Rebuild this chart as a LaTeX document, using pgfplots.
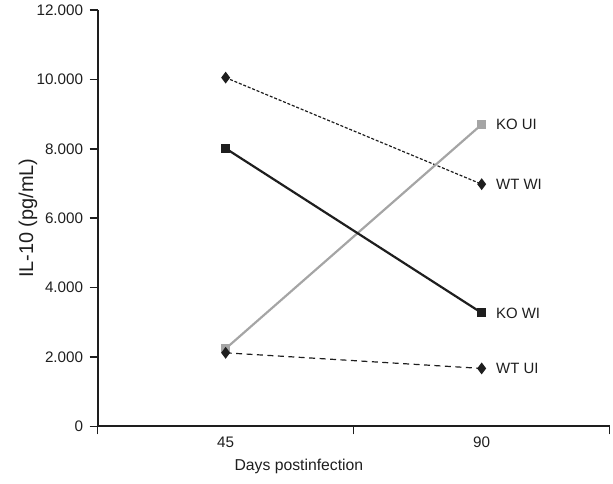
\documentclass[border=0pt]{standalone}
\usepackage{pgfplots}
\pgfplotsset{compat=1.18}
\usepackage{fontspec}
\setmainfont{Liberation Sans}
\definecolor{dk}{RGB}{30,30,30}
\definecolor{gr}{RGB}{165,165,165}
\begin{document}
\begin{tikzpicture}
\begin{axis}[
  scale only axis,
  width=514pt, height=418pt,
  xmin=0, xmax=2, ymin=0, ymax=12000,
  axis x line*=bottom, axis y line*=left,
  every outer x axis line/.append style={line width=1.8pt, color=dk, -},
  every outer y axis line/.append style={line width=1.8pt, color=dk, -},
  xtick={0,1,2}, xticklabels={},
  extra x ticks={0.5,1.5}, extra x tick labels={45,90},
  extra x tick style={major tick length=0pt, tick style={draw=none}},
  ytick={0,2000,4000,6000,8000,10000,12000},
  yticklabels={0,2.000,4.000,6.000,8.000,10.000,12.000},
  scaled ticks=false,
  tick style={line width=1.6pt, color=dk},
  major tick length=8pt,
  tick align=outside,
  xticklabel style={yshift=-7pt},
  yticklabel style={xshift=-3pt},
  ticklabel style={font=\fontsize{15.3}{17}\selectfont, color=dk},
  xlabel={Days postinfection},
  ylabel={IL-10 (pg/mL)},
  xlabel style={font=\fontsize{15.8}{18}\selectfont, color=dk, at={(axis description cs:0.393,-0.096)}, anchor=center},
  ylabel style={font=\fontsize{20}{22}\selectfont, color=dk, at={(axis description cs:-0.136,0.5)}, anchor=center},
  clip=false,
]
% WT WI
\addplot[dk, line width=1.2pt, dash pattern=on 3pt off 1.8pt, mark=diamond*, mark size=5pt, mark options={solid}]
  coordinates {(0.5,10050) (1.5,6980)};
% KO UI
\addplot[gr, line width=2.2pt, mark=square*, mark size=3.5pt, mark options={solid}]
  coordinates {(0.5,2240) (1.5,8700)};
% KO WI
\addplot[dk, line width=2.2pt, mark=square*, mark size=3.5pt, mark options={solid}]
  coordinates {(0.5,8010) (1.5,3270)};
% WT UI
\addplot[dk, line width=1.2pt, dash pattern=on 6pt off 4.5pt, mark=diamond*, mark size=5pt, mark options={solid}]
  coordinates {(0.5,2120) (1.5,1670)};
\node[anchor=west, font=\fontsize{15}{17}\selectfont, color=dk] at (axis cs:1.5,8700) [xshift=11pt] {KO UI};
\node[anchor=west, font=\fontsize{15}{17}\selectfont, color=dk] at (axis cs:1.5,6980) [xshift=11pt] {WT WI};
\node[anchor=west, font=\fontsize{15}{17}\selectfont, color=dk] at (axis cs:1.5,3270) [xshift=11pt] {KO WI};
\node[anchor=west, font=\fontsize{15}{17}\selectfont, color=dk] at (axis cs:1.5,1670) [xshift=11pt] {WT UI};
\path (rel axis cs:0,0) ++(-98pt,-57pt) coordinate (bl);
\path (rel axis cs:1,1) ++(1pt,10pt) coordinate (tr);
\end{axis}
\useasboundingbox (bl) rectangle (tr);
\end{tikzpicture}
\end{document}
